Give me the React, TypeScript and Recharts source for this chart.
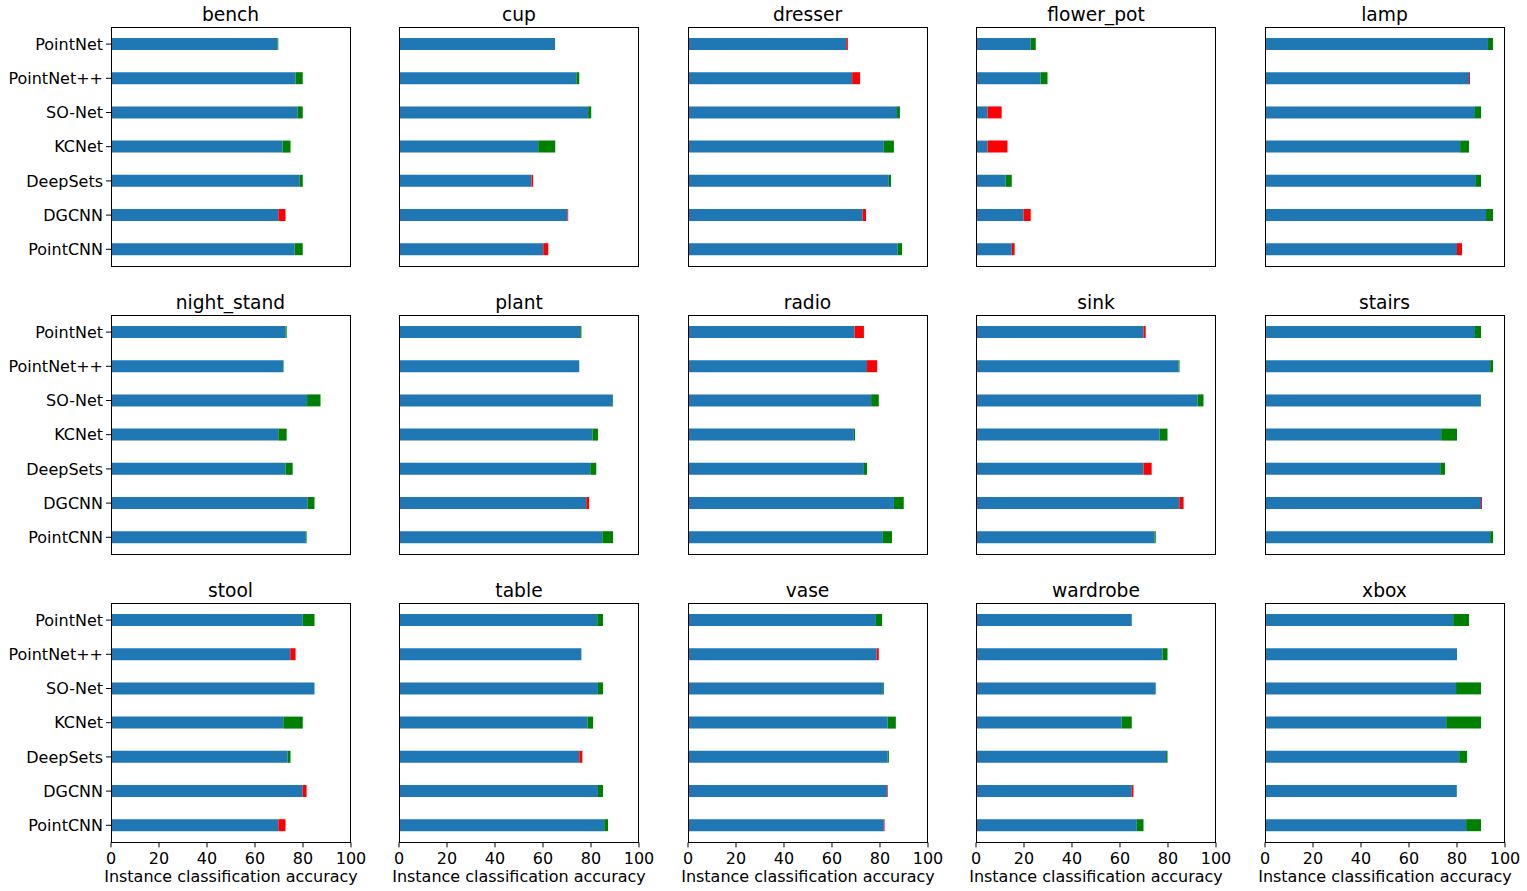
import { BarChart, Bar, XAxis, YAxis, Label } from 'recharts';

const MODELS = ['PointNet', 'PointNet++', 'SO-Net', 'KCNet', 'DeepSets', 'DGCNN', 'PointCNN'];

const CLASSES = [
  'bench', 'cup', 'dresser', 'flower_pot', 'lamp',
  'night_stand', 'plant', 'radio', 'sink', 'stairs',
  'stool', 'table', 'vase', 'wardrobe', 'xbox',
];

// blue part of each bar, one row per class, models in MODELS order
const BASE = [
  [69.4, 76.9, 77.8, 71.5, 78.5, 69.7, 76.5], // bench
  [65.0, 73.9, 78.8, 58.0, 55.2, 70.2, 60.1], // cup
  [65.9, 68.4, 87.1, 81.6, 83.7, 72.8, 87.4], // dresser
  [22.8, 26.9, 4.8, 4.8, 12.4, 19.8, 14.9], // flower_pot
  [92.9, 85.0, 87.5, 81.3, 87.9, 92.1, 80.0], // lamp
  [72.7, 71.7, 81.7, 69.7, 72.7, 82.0, 81.2], // night_stand
  [75.5, 75.1, 88.9, 80.6, 79.7, 78.0, 84.7], // plant
  [69.4, 74.6, 76.3, 69.1, 73.3, 85.8, 81.2], // radio
  [69.8, 84.4, 92.3, 76.5, 69.8, 84.7, 74.4], // sink
  [87.5, 93.8, 89.7, 73.4, 73.0, 90.0, 93.8], // stairs
  [79.9, 74.7, 84.8, 71.8, 73.6, 79.9, 69.7], // stool
  [82.6, 76.0, 82.9, 78.5, 75.1, 82.9, 85.5], // table
  [78.3, 78.6, 81.2, 83.2, 83.2, 82.9, 81.6], // vase
  [64.9, 77.7, 74.9, 60.7, 79.2, 64.9, 67.0], // wardrobe
  [78.4, 80.0, 79.6, 75.5, 80.9, 79.8, 83.8], // xbox
];

// segment after the blue part: > 0 is drawn green, < 0 is drawn red
const DELTA = [
  [0.3, 3.0, 2.1, 3.3, 1.4, -3.0, 3.4], // bench
  [0, 1.2, 1.3, 7.1, -0.7, -0.3, -2.1], // cup
  [-0.7, -3.3, 1.2, 4.2, 0.9, -1.4, 1.8], // dresser
  [2.1, 2.9, -5.9, -8.3, 2.5, -3.0, -1.2], // flower_pot
  [2.1, -0.4, 2.5, 3.7, 2.1, 2.9, -2.1], // lamp
  [0.5, 0.2, 5.6, 3.5, 3.0, 2.8, 0.3], // night_stand
  [0.5, 0, 0.3, 2.3, 2.5, -1.2, 4.5], // plant
  [-3.9, -4.2, 3.2, 0.5, 1.3, 4.1, 3.8], // radio
  [-0.9, 0.4, 2.5, 3.3, -3.4, -1.8, 0.5], // sink
  [2.5, 1.2, 0.3, 6.6, 2.0, -0.4, 1.2], // stairs
  [4.9, -2.2, 0, 8.1, 1.2, -1.6, -3.0], // stool
  [2.4, 0, 2.1, 2.4, -1.3, 2.1, 1.6], // table
  [2.6, -0.9, 0.4, 3.4, 0.5, -0.3, -0.3], // vase
  [0, 2.1, 0, 4.2, 0.6, -0.7, 2.8], // wardrobe
  [6.6, 0, 10.4, 14.5, 3.3, 0.2, 6.2], // xbox
];

const X_TICKS = [0, 20, 40, 60, 80, 100];

const PLOT_W = 240;
const PLOT_H = 239.4;
const Y_AXIS_W = 105;
const X_AXIS_H = 58;
const TOP_PAD = 5;
const RIGHT_PAD = 30;

function Panel({ idx }: { idx: number }) {
  const row = Math.floor(idx / 5);
  const col = idx % 5;
  const left = 110.5 + col * 288.5;
  const top = 27.3 + row * 288;
  const showY = col === 0;
  const showX = row === 2;

  const data = MODELS.map((name, i) => {
    const d = DELTA[idx][i];
    return { name, base: BASE[idx][i], gain: d > 0 ? d : 0, loss: d < 0 ? -d : 0 };
  });

  return (
    <>
      <div
        style={{
          position: 'absolute', left, top: top - 23, width: PLOT_W,
          textAlign: 'center', fontSize: 18.67, lineHeight: '22px', color: '#000',
        }}
      >
        {CLASSES[idx]}
      </div>
      <div style={{ position: 'absolute', left: left - Y_AXIS_W, top: top - TOP_PAD }}>
        <BarChart
          layout="vertical"
          width={Y_AXIS_W + PLOT_W + RIGHT_PAD}
          height={TOP_PAD + PLOT_H + X_AXIS_H}
          data={data}
          margin={{ top: TOP_PAD, right: RIGHT_PAD, bottom: 0, left: 0 }}
          style={{ overflow: 'visible' }}
        >
          <XAxis
            type="number"
            domain={[0, 100]}
            ticks={X_TICKS}
            interval={0}
            height={X_AXIS_H}
            axisLine={false}
            tickSize={5}
            tickMargin={5}
            tickLine={{ stroke: '#000' }}
            tick={showX ? { fill: '#000', fontSize: 16 } : false}
          >
            {showX && (
              <Label value="Instance classification accuracy" position="insideBottom" offset={18} fill="#000" fontSize={16} />
            )}
          </XAxis>
          <YAxis
            type="category"
            dataKey="name"
            width={Y_AXIS_W}
            interval={0}
            axisLine={false}
            tickSize={5}
            tickMargin={3}
            tickLine={{ stroke: '#000' }}
            tick={showY ? { fill: '#000', fontSize: 16 } : false}
          />
          <Bar dataKey="base" stackId="a" fill="#1f77b4" barSize={12} isAnimationActive={false} />
          <Bar dataKey="gain" stackId="a" fill="#008000" barSize={12} isAnimationActive={false} />
          <Bar dataKey="loss" stackId="a" fill="#ff0000" barSize={12} isAnimationActive={false} />
        </BarChart>
      </div>
      <div
        style={{
          position: 'absolute', left, top, width: PLOT_W, height: PLOT_H,
          border: '1px solid #000', boxSizing: 'border-box', pointerEvents: 'none',
        }}
      />
    </>
  );
}

export default function App() {
  return (
    <div
      style={{
        position: 'absolute', left: 0, top: 0, width: 1527, height: 891,
        background: '#fff', fontFamily: '"DejaVu Sans", sans-serif', overflow: 'hidden',
      }}
    >
      {CLASSES.map((_, i) => (
        <Panel key={i} idx={i} />
      ))}
    </div>
  );
}
